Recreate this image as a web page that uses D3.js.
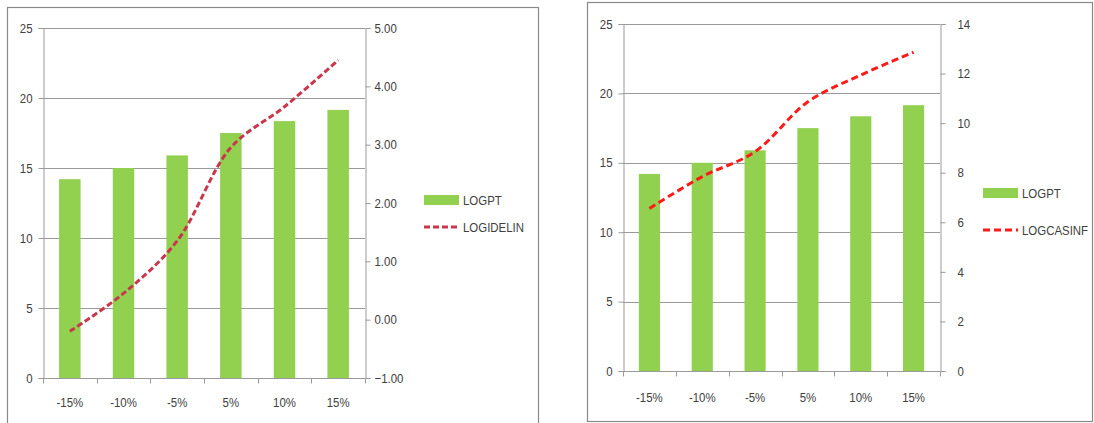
<!DOCTYPE html>
<html>
<head>
<meta charset="utf-8">
<script src="https://cdn.jsdelivr.net/npm/d3@7"></script>
<style>
  html, body { margin: 0; padding: 0; background: #fff; }
  svg { display: block; }
  text { font-family: "Liberation Sans", Arial, sans-serif; font-size: 13px; fill: #404040; }
</style>
</head>
<body>
<svg id="chart" width="1094" height="423"></svg>
<script>
// Scenario categories (price change)
const categories = ["-15%", "-10%", "-5%", "5%", "10%", "15%"];

// Bar series shared by both panels
const logpt = [14.2, 15.0, 15.9, 17.5, 18.35, 19.15];

// Line series, plotted on each panel's secondary axis
const logidelin = [-0.2, 0.45, 1.35, 2.95, 3.65, 4.45];
const logcasinf = [6.56, 7.84, 8.85, 10.86, 11.94, 12.86];

// Axis tick values
const leftTicks = [0, 5, 10, 15, 20, 25];
const rightTicksA = [-1, 0, 1, 2, 3, 4, 5];
const rightTicksB = [0, 2, 4, 6, 8, 10, 12, 14];

const FONT = "'Liberation Sans', Arial, sans-serif";
const SQUEEZE = 0.88;   // condensed lettering

const svg = d3.select("#chart");

// narrow the text horizontally while keeping its anchor point fixed
function condense(sel) {
  sel.each(function () {
    const t = d3.select(this);
    const x = +(t.attr("x") || 0);
    t.attr("transform", `translate(${x * (1 - SQUEEZE)},0) scale(${SQUEEZE},1)`);
  });
}

function panel(cfg) {
  const g = svg.append("g");

  // chart frame
  g.append("rect")
    .attr("x", cfg.frame[0] + 0.5).attr("y", cfg.frame[1] + 0.5)
    .attr("width", cfg.frame[2]).attr("height", cfg.frame[3])
    .attr("fill", "#fff").attr("stroke", "#8a8a8a").attr("stroke-width", 1.2);

  const x = d3.scaleBand().domain(categories)
    .range([cfg.left, cfg.right]).paddingInner(0.6).paddingOuter(0.3);
  const step = x.step();
  const y = d3.scaleLinear().domain([0, 25]).range([cfg.bottom, cfg.top]);
  const y2 = d3.scaleLinear().domain(cfg.y2domain).range([cfg.bottom, cfg.top]);

  // horizontal gridlines
  g.append("g").selectAll("line").data(leftTicks.slice(1)).join("line")
    .attr("x1", cfg.left).attr("x2", cfg.right)
    .attr("y1", d => Math.round(y(d)) + 0.5).attr("y2", d => Math.round(y(d)) + 0.5)
    .attr("stroke", "#9a9a9a").attr("stroke-width", 1);

  // primary axis
  const la = g.append("g").attr("transform", `translate(${cfg.left + 0.5},0)`)
    .call(d3.axisLeft(y).tickValues(leftTicks).tickSize(5).tickPadding(6).tickFormat(d3.format("d")));
  la.select(".domain").attr("stroke", "#9a9a9a");
  la.selectAll(".tick line").attr("stroke", "#9a9a9a");
  la.selectAll("text").attr("fill", "#404040").style("font-size", "13px").style("font-family", FONT)
    .call(condense);

  // secondary axis
  const ra = g.append("g").attr("transform", `translate(${cfg.right + 0.5},0)`)
    .call(d3.axisRight(y2).tickValues(cfg.y2ticks).tickSize(5).tickPadding(cfg.y2pad).tickFormat(d3.format(cfg.y2fmt)));
  ra.select(".domain").attr("stroke", "#9a9a9a");
  ra.selectAll(".tick line").attr("stroke", "#9a9a9a");
  ra.selectAll("text").attr("fill", "#404040").style("font-size", "13px").style("font-family", FONT)
    .call(condense);

  // bars
  g.append("g").selectAll("rect").data(categories).join("rect")
    .attr("x", d => x(d)).attr("width", x.bandwidth())
    .attr("y", (d, i) => y(logpt[i])).attr("height", (d, i) => y(0) - y(logpt[i]))
    .attr("fill", "#92d050");

  // category axis with ticks between categories
  const baseY = Math.round(y(0)) + 0.5;
  g.append("line").attr("x1", cfg.left).attr("x2", cfg.right)
    .attr("y1", baseY).attr("y2", baseY).attr("stroke", "#9a9a9a");
  const bounds = d3.range(categories.length + 1).map(i => x.range()[0] + i * step);
  g.append("g").selectAll("line").data(bounds).join("line")
    .attr("x1", d => Math.round(d) + 0.5).attr("x2", d => Math.round(d) + 0.5)
    .attr("y1", baseY).attr("y2", baseY + 5).attr("stroke", "#9a9a9a");
  g.append("g").selectAll("text").data(categories).join("text")
    .attr("x", d => x(d) + x.bandwidth() / 2).attr("y", cfg.bottom + cfg.xlabelDy)
    .attr("text-anchor", "middle").text(d => d)
    .call(condense);

  // smoothed dashed line
  const line = d3.line()
    .x((d, i) => x(categories[i]) + x.bandwidth() / 2)
    .y(d => y2(d))
    .curve(d3.curveCatmullRom.alpha(0.5));
  g.append("path").datum(cfg.series)
    .attr("d", line).attr("fill", "none")
    .attr("stroke", cfg.lineColor).attr("stroke-width", 3)
    .attr("stroke-dasharray", cfg.dash);

  // legend
  const lg = g.append("g").attr("transform", `translate(${cfg.legend[0]},${cfg.legend[1]})`);
  lg.append("rect").attr("x", 0).attr("y", -5).attr("width", 35).attr("height", 10).attr("fill", "#92d050");
  lg.append("text").attr("x", 39).attr("y", 5).text("LOGPT").call(condense);
  lg.append("line").attr("x1", 0).attr("x2", 35).attr("y1", cfg.legendGap).attr("y2", cfg.legendGap)
    .attr("stroke", cfg.lineColor).attr("stroke-width", 3).attr("stroke-dasharray", cfg.dash);
  lg.append("text").attr("x", 39).attr("y", cfg.legendGap + 5).text(cfg.lineName).call(condense);
}

panel({
  frame: [7, 7, 531, 420],
  left: 43, right: 365, top: 28, bottom: 378,
  y2domain: [-1, 5], y2ticks: rightTicksA, y2fmt: ".2f", y2pad: 4,
  series: logidelin, lineName: "LOGIDELIN",
  lineColor: "#c8374c", dash: "6,3",
  xlabelDy: 29,
  legend: [424, 200], legendGap: 27
});

panel({
  frame: [587, 2, 505, 419],
  left: 623, right: 940, top: 24, bottom: 371,
  y2domain: [0, 14], y2ticks: rightTicksB, y2fmt: "d", y2pad: 12,
  series: logcasinf, lineName: "LOGCASINF",
  lineColor: "#ff1a1a", dash: "7,4",
  xlabelDy: 31,
  legend: [983, 193], legendGap: 37
});
</script>
</body>
</html>
